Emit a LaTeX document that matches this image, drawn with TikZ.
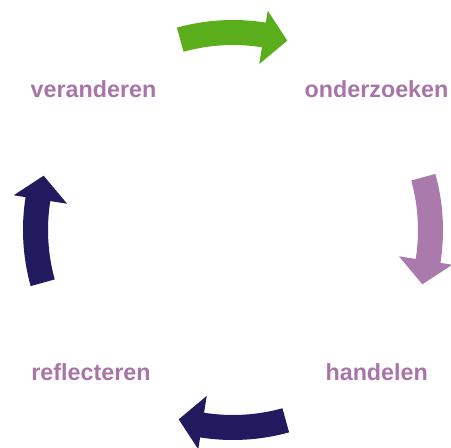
\documentclass[tikz,border=0pt]{standalone}
\usepackage{fontspec}
\newfontfamily\labelfont{Liberation Sans}
\definecolor{lila}{HTML}{A875A8}
\definecolor{roze}{HTML}{A97AAB}
\definecolor{groen}{HTML}{5AAD1B}
\definecolor{navy}{HTML}{211A5E}
\tikzset{stap/.style={anchor=base,text=lila,font=\labelfont\bfseries\fontsize{23.3}{28}\selectfont}}
\begin{document}
\begin{tikzpicture}[x=1pt,y=1pt, line join=round]
            \def\ri{185} \def\ro{210} \def\hi{168} \def\ho{222} \def\rt{197}
            \useasboundingbox (0,0) rectangle (451,448);
            \node[stap] (veranderen) at (93.5,350) {veranderen};
            \node[stap] (onderzoeken) at (376.5,350) {onderzoeken};
            \node[stap] (handelen) at (376.7,67) {handelen};
            \node[stap] (reflecteren) at (91,67) {reflecteren};
            \begin{scope}[shift={(233,218)}]
            \foreach \c/\kleur in {90/groen,0/roze,-90/navy,180/navy}{
                \fill[\kleur] (\c+15.5:\ro) arc (\c+15.5:\c-9:\ro) -- (\c-9:\ho) -- (\c-16:\rt)
                    -- (\c-9:\hi) -- (\c-9:\ri) arc (\c-9:\c+15.5:\ri) -- cycle;
            }
            \end{scope}
        \end{tikzpicture}
\end{document}
